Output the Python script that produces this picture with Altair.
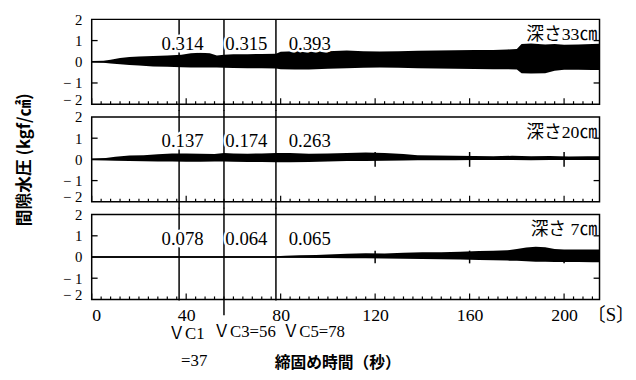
import altair as alt
import pandas as pd

# ---------------- data ----------------
# depth 33 cm : envelope of the pore-pressure record
T1 = [0, 5, 8, 12, 16, 20, 26, 32, 38, 42, 46, 50, 53, 56, 60, 66, 72, 78, 80, 86, 92,
      100, 108, 115, 122, 130, 138, 146, 154, 162, 170, 176, 180, 182, 186, 192, 196, 200,
      206, 212, 215]
U1 = [0.04, 0.05, 0.10, 0.18, 0.22, 0.25, 0.27, 0.30, 0.33, 0.40, 0.42, 0.40, 0.30, 0.33,
      0.35, 0.36, 0.37, 0.38, 0.47, 0.50, 0.52, 0.50, 0.53, 0.50, 0.48, 0.50, 0.52, 0.53,
      0.54, 0.55, 0.55, 0.58, 0.60, 0.84, 0.86, 0.82, 0.84, 0.80, 0.82, 0.84, 0.85]
L1 = [-0.04, -0.05, -0.08, -0.12, -0.15, -0.18, -0.22, -0.24, -0.26, -0.27, -0.27, -0.27,
      -0.27, -0.28, -0.29, -0.30, -0.31, -0.32, -0.35, -0.37, -0.36, -0.33, -0.30, -0.28,
      -0.27, -0.28, -0.30, -0.32, -0.33, -0.34, -0.35, -0.35, -0.36, -0.54, -0.55, -0.54,
      -0.42, -0.38, -0.38, -0.39, -0.39]

# depth 20 cm
T2 = [0, 6, 10, 16, 22, 28, 34, 40, 46, 52, 56, 60, 66, 72, 78, 84, 92, 100, 108, 116,
      124, 132, 138, 146, 154, 162, 170, 178, 186, 194, 202, 210, 215]
U2 = [0.04, 0.06, 0.12, 0.18, 0.20, 0.24, 0.28, 0.28, 0.27, 0.26, 0.30, 0.28, 0.27, 0.28,
      0.30, 0.30, 0.27, 0.28, 0.30, 0.32, 0.30, 0.25, 0.20, 0.18, 0.17, 0.16, 0.15, 0.17,
      0.15, 0.16, 0.14, 0.15, 0.15]
L2 = [-0.04, -0.05, -0.07, -0.08, -0.09, -0.10, -0.10, -0.11, -0.11, -0.10, -0.10, -0.11,
      -0.12, -0.12, -0.13, -0.13, -0.12, -0.10, -0.08, -0.08, -0.06, -0.05, -0.04, -0.04,
      -0.04, -0.03, -0.03, -0.03, -0.04, -0.03, -0.03, -0.03, -0.03]

# depth 7 cm
T3 = [0, 20, 40, 60, 78, 82, 88, 95, 100, 108, 116, 124, 132, 140, 148, 156, 164, 170,
      176, 180, 184, 188, 192, 196, 200, 206, 212, 215]
U3 = [0.03, 0.03, 0.04, 0.03, 0.04, 0.06, 0.08, 0.10, 0.12, 0.15, 0.18, 0.17, 0.20, 0.22,
      0.22, 0.25, 0.28, 0.30, 0.32, 0.38, 0.45, 0.48, 0.46, 0.38, 0.36, 0.35, 0.36, 0.36]
L3 = [-0.03, -0.03, -0.03, -0.03, -0.03, -0.04, -0.04, -0.05, -0.05, -0.06, -0.06, -0.07,
      -0.08, -0.09, -0.10, -0.12, -0.14, -0.15, -0.17, -0.18, -0.20, -0.22, -0.22, -0.23,
      -0.24, -0.24, -0.25, -0.25]

VC_T = [37, 56, 78]                       # VC1, VC3, VC5 (s)
PEAK_POS = [38.5, 65.5, 92.3]             # label positions (s)
PEAKS = [["0.314", "0.315", "0.393"],
         ["0.137", "0.174", "0.263"],
         ["0.078", "0.064", "0.065"]]
DEPTHS = ["深さ33㎝", "深さ20㎝", "深さ 7㎝"]
MARK_T = [120, 160, 200]                  # time marks on the record
SPIKE_H = [0.0, 0.35, 0.30]
X_TICKS = [0, 40, 80, 120, 160, 200]
Y_TICKS = [-2, -1, 0, 1, 2]
MINOR_T = list(range(0, 216, 4))
VC_LBL_T = [40.1, 43.4, 64.7, 94.0]
VC_LBL_Y = [-3.62, -4.9, -3.55, -3.55]
VC_LBL = ["ＶC1", "=37", "ＶC3=56", "ＶC5=78"]

SERIF = "Liberation Serif, Noto Sans CJK JP"
CJK = "Noto Sans CJK JP"

XS = alt.Scale(domain=[0, 215], nice=False, zero=False)
YS = alt.Scale(domain=[-2, 2], nice=False, zero=False)


def make_panel(i, T, U, L):
    bottom = i == 2
    if bottom:
        xa = alt.Axis(values=X_TICKS, ticks=False, domain=False, grid=False,
                      labelFont=SERIF, labelFontSize=18, labelPadding=7, labelColor="black",
                      title="締固め時間（秒）", titleFont=CJK, titleFontSize=16,
                      titleFontWeight="bold", titleColor="black", titlePadding=31,
                      titleX=249)
    else:
        xa = None
    yk = dict(values=Y_TICKS, ticks=False, domain=False, grid=False,
              labelFont=SERIF, labelFontSize=15, labelPadding=10, labelColor="black",
              labelBaseline={"condition": {"test": "datum.value == -2",
                                           "value": "alphabetic"},
                             "value": "middle"},
              labelExpr="datum.value < 0 ? '\u2212   ' + abs(datum.value) : datum.label")
    if i == 1:
        yk.update(title="間隙水圧 (kgf/㎠)", titleFont=CJK, titleFontSize=17,
                  titleFontWeight="bold", titleColor="black", titlePadding=22)
    else:
        yk.update(title="")
    ya = alt.Axis(**yk)

    def X(f):
        return alt.X(f, type="quantitative", scale=XS, axis=xa)

    def Y(f):
        return alt.Y(f, type="quantitative", scale=YS, axis=ya)

    band = alt.Chart(pd.DataFrame({"t": T, "up": U, "lo": L})).mark_area(
        color="black", interpolate="linear").encode(x=X("t"), y=Y("up"), y2="lo:Q")

    zero = alt.Chart(pd.DataFrame({"v": [0]})).mark_rule(
        color="black", strokeWidth=1.3).encode(y=Y("v"))

    top = 2.0 if i == 0 else 2.32
    bots = [-2.32] * 3 if i < 2 else [-2.05, -2.75, -2.05]
    vc = alt.Chart(pd.DataFrame({"t": VC_T, "y0": [top] * 3, "y1": bots})).mark_rule(
        color="black", strokeWidth=1.5, clip=False).encode(x=X("t"), y=Y("y0"), y2="y1:Q")

    minor = alt.Chart(pd.DataFrame({"t": MINOR_T})).transform_calculate(
        y0="-2", y1="datum.t % 40 == 0 ? -1.72 : -1.86").mark_rule(
        color="black", strokeWidth=1.2).encode(x=X("t"), y=Y("y0:Q"), y2="y1:Q")

    yt = pd.DataFrame({"v": [1, -1]})
    ytl = alt.Chart(yt).mark_rule(color="black", strokeWidth=1.3).encode(
        y=Y("v"), x=alt.value(0), x2=alt.value(6))
    ytr = alt.Chart(yt).mark_rule(color="black", strokeWidth=1.3).encode(
        y=Y("v"), x=alt.value(509), x2=alt.value(515))

    layers = [band, zero, vc, minor, ytl, ytr]

    if SPIKE_H[i] > 0:
        h = SPIKE_H[i]
        sp = alt.Chart(pd.DataFrame({"t": MARK_T, "y0": [h] * 3, "y1": [-h] * 3})).mark_rule(
            color="black", strokeWidth=1.5).encode(x=X("t"), y=Y("y0"), y2="y1:Q")
        layers.append(sp)

    pk = pd.DataFrame({"t": PEAK_POS, "txt": PEAKS[i], "y": [0.85] * 3})
    halo = alt.Chart(pk).mark_text(font=SERIF, fontSize=19, color="white", stroke="white",
                                   strokeWidth=5, baseline="middle").encode(
        x=X("t"), y=Y("y"), text="txt:N")
    pkt = alt.Chart(pk).mark_text(font=SERIF, fontSize=19, color="black",
                                  baseline="middle").encode(
        x=X("t"), y=Y("y"), text="txt:N")
    layers += [halo, pkt]

    dp = pd.DataFrame({"t": [214], "txt": [DEPTHS[i]], "y": [1.25]})
    dpt = alt.Chart(dp).mark_text(font=SERIF, fontSize=18, color="black", align="right",
                                  baseline="middle").encode(x=X("t"), y=Y("y"), text="txt:N")
    layers.append(dpt)

    if bottom:
        vl = pd.DataFrame({"t": VC_LBL_T, "y": VC_LBL_Y, "txt": VC_LBL})
        vlt = alt.Chart(vl).mark_text(font=SERIF, fontSize=17, color="black",
                                      baseline="middle", clip=False).encode(
            x=X("t"), y=Y("y"), text="txt:N")
        su = pd.DataFrame({"t": [219.8], "y": [-2.74], "txt": ["〔S〕"]})
        sut = alt.Chart(su).mark_text(font=SERIF, fontSize=19, color="black",
                                      baseline="middle", clip=False).encode(
            x=X("t"), y=Y("y"), text="txt:N")
        layers += [vlt, sut]

    return alt.layer(*layers).properties(width=515, height=86)


p1 = make_panel(0, T1, U1, L1)
p2 = make_panel(1, T2, U2, L2)
p3 = make_panel(2, T3, U3, L3)

chart = alt.vconcat(p1, p2, p3, spacing=13, bounds="flush").properties(
    padding={"left": 15, "top": 9, "right": 0, "bottom": 0},
    background="white",
).configure_view(stroke="black", strokeWidth=1.5)

chart.save("out.html", embed_options={"renderer": "svg", "actions": False})
